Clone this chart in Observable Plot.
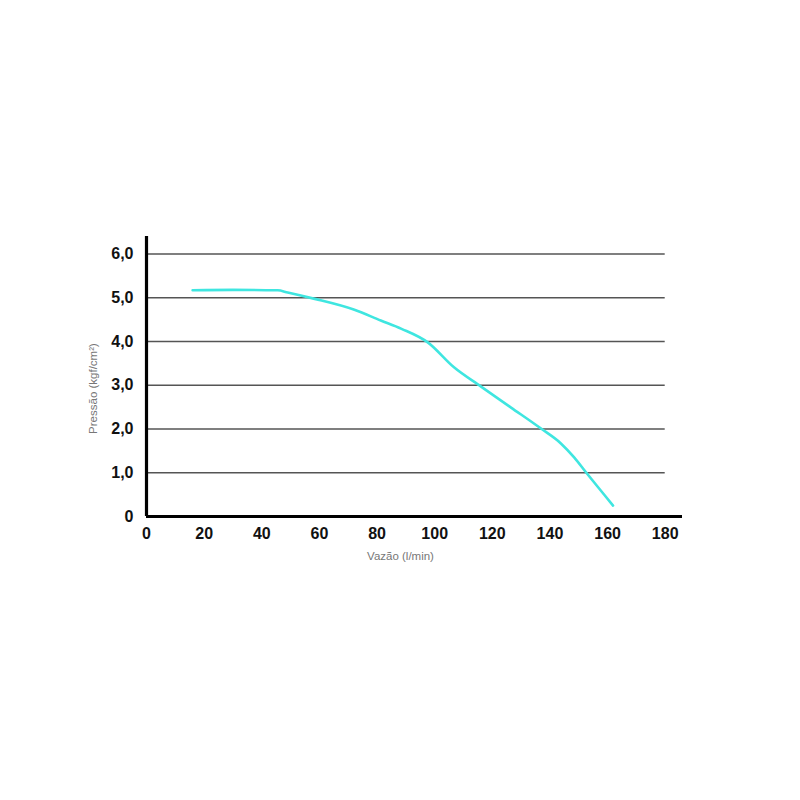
<!DOCTYPE html>
<html>
<head>
<meta charset="utf-8">
<script src="https://cdn.jsdelivr.net/npm/d3@7"></script>
<script src="https://cdn.jsdelivr.net/npm/@observablehq/plot@0.6"></script>
<style>
  html, body { margin: 0; padding: 0; background: #fff; }
  #chart { width: 800px; height: 800px; }
</style>
</head>
<body>
<div id="chart"></div>
<script>
// Data
const vazao   = [16.0, 30.0, 45.5, 49.0, 58.0, 71.9, 81.3, 88.5, 97.6, 106.7, 116.1, 126.5, 136.9, 143.8, 148.4, 152.5, 161.9];
const pressao = [5.17, 5.18, 5.17, 5.12, 4.98, 4.73, 4.48, 4.29, 3.98, 3.41, 2.97, 2.49, 2.01, 1.67, 1.35, 1.01, 0.25];
const xTicks = [0, 20, 40, 60, 80, 100, 120, 140, 160, 180];
const yTicks = [0, 1, 2, 3, 4, 5, 6];
const xLabel = "Vazão (l/min)";
const yLabel = "Pressão (kgf/cm²)";

const data = vazao.map((v, i) => ({x: v, y: pressao[i]}));
const fmtY = d => d === 0 ? "0" : d.toFixed(1).replace(".", ",");

const chart = Plot.plot({
  width: 800,
  height: 800,
  marginLeft: 146,
  marginRight: 118,
  marginTop: 236,
  marginBottom: 284,
  style: {fontFamily: "'Liberation Sans', Arial, sans-serif", background: "#fff"},
  x: {domain: [0, 186], ticks: xTicks},
  y: {domain: [0, 6.4], ticks: yTicks},
  marks: [
    Plot.ruleY(yTicks.filter(d => d > 0), {x1: 0, x2: 180, stroke: "#555", strokeWidth: 1.5}),
    Plot.axisX(xTicks, {tickSize: 0, tickPadding: 11, fontSize: 16, fontWeight: "bold", fill: "#111", label: null}),
    Plot.axisY(yTicks, {tickSize: 0, tickPadding: 13, fontSize: 16, fontWeight: "bold", fill: "#111", tickFormat: fmtY, label: null}),
    Plot.line(data, {x: "x", y: "y", stroke: "#3fe6e0", strokeWidth: 2.6, curve: "monotone-x"}),
    Plot.ruleX([0], {stroke: "#000", strokeWidth: 3.2}),
    Plot.ruleY([0], {stroke: "#000", strokeWidth: 3.2}),
    Plot.text([xLabel], {frameAnchor: "bottom", text: d => d, dx: -14, dy: 43, fontSize: 11.5, fill: "#777"}),
    Plot.text([yLabel], {frameAnchor: "left", text: d => d, textAnchor: "middle", dx: -53, dy: 12, rotate: -90, fontSize: 11.5, fill: "#777"})
  ]
});
document.getElementById("chart").appendChild(chart);
</script>
</body>
</html>
